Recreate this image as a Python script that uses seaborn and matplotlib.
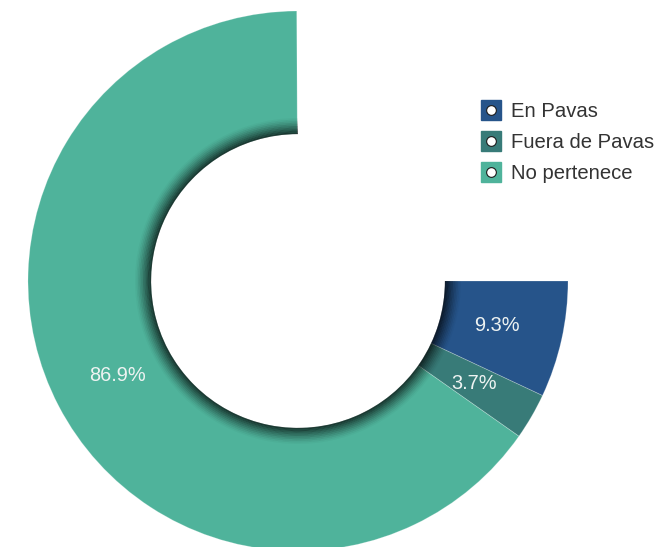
import matplotlib
matplotlib.use("Agg")
import matplotlib.pyplot as plt
from matplotlib.lines import Line2D
from matplotlib.legend_handler import HandlerTuple
import seaborn as sns

# ---- data ----
categories = ["En Pavas", "Fuera de Pavas", "No pertenece"]
shares = [9.3, 3.7, 86.9]          # percent
colors = ["#26548A", "#387B78", "#4FB39B"]
SPAN = 0.75                        # pie covers 270 degrees

sns.set_style("white")
plt.rcParams["font.family"] = ["Liberation Sans", "DejaVu Sans"]

W, H = 659, 547
fig = plt.figure(figsize=(W / 100, H / 100), dpi=100)
ax = fig.add_axes([0, 0, 1, 1])

# geometry (pixels)
cx, cy, R, r_in = 298, 281, 270, 147
ring_w = (R - r_in) / R

vals = [s / 100 * SPAN for s in shares]
wedges, texts, autotexts = ax.pie(
    vals, normalize=False, startangle=0, counterclock=False, radius=1,
    colors=colors,
    wedgeprops=dict(width=ring_w, linewidth=0.6, edgecolor=(1, 1, 1, 0.25)),
    autopct=lambda p: f"{p / SPAN:.1f}%", pctdistance=0.755,
    textprops=dict(color="#EEF3F2", fontsize=14.4),
)

# inner shadow (gradient of thin dark rings along inner edge)
n = 10
band = 16 / R
for i in range(n):
    rr = r_in / R + band * (i + 1) / n
    a = 0.68 * (1 - i / n) ** 1.4
    ax.pie([SPAN], normalize=False, startangle=0, counterclock=False, radius=rr,
           colors=["black"],
           wedgeprops=dict(width=band / n + 0.0005, linewidth=0, alpha=a))

ax.set_xlim(-cx / R, (W - cx) / R)
ax.set_ylim(-(H - cy) / R, cy / R)
ax.set_aspect("equal")
ax.axis("off")

handles = [
    (Line2D([], [], marker="s", markersize=15, color=c, linestyle=""),
     Line2D([], [], marker="o", markersize=7, markerfacecolor="white",
            markeredgecolor="#1a1a1a", markeredgewidth=0.8, linestyle=""))
    for c in colors
]
fig.legend(handles, categories, handler_map={tuple: HandlerTuple(ndivide=1, pad=0)},
           loc="upper left", bbox_to_anchor=(481 / W, 1 - 102 / H),
           frameon=False, fontsize=14.6, labelcolor="#333333",
           handlelength=1.0, handletextpad=0.5, labelspacing=0.6,
           borderpad=0, borderaxespad=0)

fig.savefig("out.png", dpi=100)
